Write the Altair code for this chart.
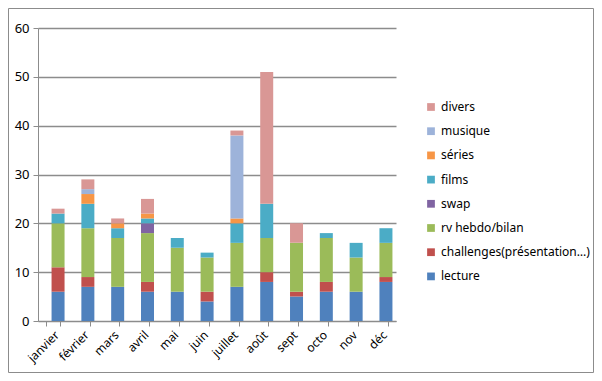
import altair as alt
import pandas as pd

months = ["janvier", "février", "mars", "avril", "mai", "juin", "juillet", "août", "sept", "octo", "nov", "déc"]
series = ["lecture", "challenges(présentation…)", "rv hebdo/bilan", "swap", "films", "séries", "musique", "divers"]
colors = ["#4F81BD", "#C0504D", "#9BBB59", "#8064A2", "#4BACC6", "#F79646", "#9DB3DA", "#D99795"]

lecture     = [6, 7, 7, 6, 6, 4, 7, 8, 5, 6, 6, 8]
challenges  = [5, 2, 0, 2, 0, 2, 0, 2, 1, 2, 0, 1]
rv_hebdo    = [9, 10, 10, 10, 9, 7, 9, 7, 10, 9, 7, 7]
swap        = [0, 0, 0, 2, 0, 0, 0, 0, 0, 0, 0, 0]
films       = [2, 5, 2, 1, 2, 1, 4, 7, 0, 1, 3, 3]
series_tv   = [0, 2, 1, 1, 0, 0, 1, 0, 0, 0, 0, 0]
musique     = [0, 1, 0, 0, 0, 0, 17, 0, 0, 0, 0, 0]
divers      = [1, 2, 1, 3, 0, 0, 1, 27, 4, 0, 0, 0]

values = [lecture, challenges, rv_hebdo, swap, films, series_tv, musique, divers]
rows = []
for si, (name, vals) in enumerate(zip(series, values)):
    for m, v in zip(months, vals):
        if v > 0:
            rows.append({"mois": m, "série": name, "valeur": v, "ordre": si})
df = pd.DataFrame(rows)

padL, padT = 30, 20
W, H = 358, 293
totW, totH = 586, 365
padR = totW - padL - W
padB = totH - padT - H
font = "Noto Sans"

bars = alt.Chart(df).mark_bar(size=13, xOffset=5, stroke=None).encode(
    x=alt.X("mois:N", sort=months, scale=alt.Scale(paddingInner=0.55, paddingOuter=0.28),
            axis=alt.Axis(title=None, labelAngle=-45, labelAlign="right", labelBaseline="top",
                          labelFontSize=12, labelFont=font, labelColor="#000000", grid=False,
                          domainColor="#8c8c8c", tickColor="#8c8c8c", tickSize=5, tickBand="extent",
                          labelPadding=3)),
    y=alt.Y("valeur:Q", stack="zero", scale=alt.Scale(domain=[0, 60]),
            axis=alt.Axis(title=None, values=[0, 10, 20, 30, 40, 50, 60], labelFontSize=13,
                          labelFont=font, labelColor="#000000", domainColor="#8c8c8c",
                          tickColor="#8c8c8c", tickSize=5, gridColor="#8c8c8c", gridWidth=1.5,
                          labelPadding=4)),
    color=alt.Color("série:N", scale=alt.Scale(domain=series[::-1], range=colors[::-1]),
                    legend=alt.Legend(title=None, orient="none", legendX=425 - 8 - padL,
                                      legendY=101 - 8 - padT, symbolType="square", symbolSize=60,
                                      symbolStrokeWidth=0, labelFontSize=12, labelFont=font,
                                      labelColor="#000000", rowPadding=12.2, labelOffset=4)),
    order=alt.Order("ordre:Q", sort="ascending"),
)

border = alt.Chart(pd.DataFrame({"a": [0]})).mark_rect(fill=None, stroke="#8c8c8c", strokeWidth=1).encode(
    x=alt.value(-padL + 0.5), x2=alt.value(totW - padL - 0.5),
    y=alt.value(-padT + 0.5), y2=alt.value(totH - padT - 0.5),
)

chart = alt.layer(bars, border).properties(
    width=W, height=H,
    background="#ffffff",
    padding={"left": padL, "top": padT, "right": padR, "bottom": padB},
    autosize=alt.AutoSizeParams(type="none"),
).configure_view(stroke=None)

chart.save("out.html", embed_options={"renderer": "svg", "actions": False})
